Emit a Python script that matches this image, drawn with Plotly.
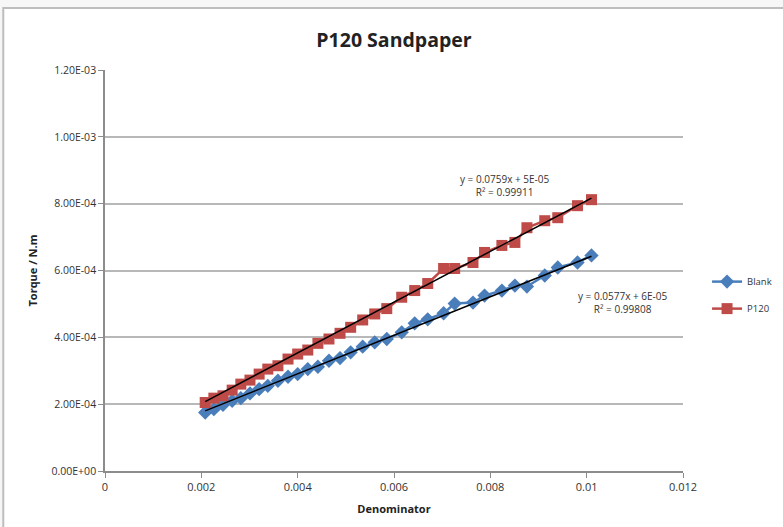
import plotly.graph_objects as go

# Denominator values (shared by both series)
denominator = [0.00208, 0.00226, 0.00245, 0.00264, 0.00282, 0.00301, 0.00320, 0.00338,
               0.00359, 0.00380, 0.00400, 0.00421, 0.00442, 0.00465, 0.00488, 0.00510,
               0.00535, 0.00560, 0.00585, 0.00616, 0.00643, 0.00670, 0.00703, 0.00726,
               0.00764, 0.00788, 0.00824, 0.00851, 0.00876, 0.00913, 0.00940, 0.00981,
               0.01010]

# Torque / N.m
torque_blank = [1.75e-4, 1.85e-4, 1.98e-4, 2.10e-4, 2.18e-4, 2.32e-4, 2.45e-4, 2.55e-4,
                2.70e-4, 2.82e-4, 2.90e-4, 3.05e-4, 3.12e-4, 3.30e-4, 3.38e-4, 3.55e-4,
                3.72e-4, 3.85e-4, 3.95e-4, 4.15e-4, 4.42e-4, 4.54e-4, 4.72e-4, 5.01e-4,
                5.04e-4, 5.25e-4, 5.40e-4, 5.55e-4, 5.52e-4, 5.85e-4, 6.09e-4, 6.24e-4,
                6.45e-4]
torque_p120 = [2.05e-4, 2.18e-4, 2.25e-4, 2.42e-4, 2.60e-4, 2.72e-4, 2.90e-4, 3.05e-4,
               3.15e-4, 3.35e-4, 3.50e-4, 3.62e-4, 3.82e-4, 3.95e-4, 4.12e-4, 4.30e-4,
               4.52e-4, 4.70e-4, 4.86e-4, 5.20e-4, 5.40e-4, 5.61e-4, 6.06e-4, 6.06e-4,
               6.24e-4, 6.54e-4, 6.75e-4, 6.84e-4, 7.28e-4, 7.49e-4, 7.58e-4, 7.94e-4,
               8.12e-4]

# Linear trendline coefficients (slope, intercept, R²)
fit_blank = (0.0577, 6e-05, 0.99808)
fit_p120 = (0.0759, 5e-05, 0.99911)

# Axis ticks
y_ticks = [0, 2e-4, 4e-4, 6e-4, 8e-4, 1e-3, 1.2e-3]
y_tick_labels = ["0.00E+00", "2.00E-04", "4.00E-04", "6.00E-04", "8.00E-04", "1.00E-03", "1.20E-03"]
x_ticks = [0, 0.002, 0.004, 0.006, 0.008, 0.010, 0.012]
x_tick_labels = ["0", "0.002", "0.004", "0.006", "0.008", "0.01", "0.012"]

BLUE = "#4a7ebb"
RED = "#be4b48"
FONT = "Open Sans, Noto Sans, DejaVu Sans, sans-serif"
TXT = "#333333"

fig = go.Figure()

fig.add_trace(go.Scatter(
    x=denominator, y=torque_blank, name="Blank", mode="lines+markers",
    line=dict(color=BLUE, width=2.5),
    marker=dict(symbol="diamond", size=11, color=BLUE),
    legendgroup="blank",
))
fig.add_trace(go.Scatter(
    x=denominator, y=torque_p120, name="P120", mode="lines+markers",
    line=dict(color=RED, width=2.5),
    marker=dict(symbol="square", size=11, color=RED),
    legendgroup="p120",
))

# Trendlines drawn from the fitted equations over the data range
x0, x1 = denominator[0], denominator[-1]
for slope, icpt, _ in (fit_blank, fit_p120):
    fig.add_trace(go.Scatter(
        x=[x0, x1], y=[slope * x0 + icpt, slope * x1 + icpt],
        mode="lines", line=dict(color="black", width=1.5),
        showlegend=False, hoverinfo="skip",
    ))

def fit_text(fit, icpt_label):
    return f"y = {fit[0]}x + {icpt_label}<br>R² = {fit[2]}"

fig.add_annotation(x=0.00830, y=8.55e-4, xref="x", yref="y",
                   text=fit_text(fit_p120, "5E-05"), showarrow=False,
                   font=dict(family=FONT, size=10, color=TXT), align="center")
fig.add_annotation(x=0.01075, y=5.05e-4, xref="x", yref="y",
                   text=fit_text(fit_blank, "6E-05"), showarrow=False,
                   font=dict(family=FONT, size=10, color=TXT), align="center")

# Chart frame
fig.add_shape(type="rect", xref="paper", yref="paper",
              x0=-0.176, y0=-0.16, x1=1.2, y1=1.1546,
              line=dict(color="#bdbdbd", width=2), fillcolor="white", layer="below")

fig.update_layout(
    width=783, height=527,
    margin=dict(l=105, r=100, t=70, b=56, autoexpand=False),
    paper_bgcolor="#f6f6f6", plot_bgcolor="rgba(0,0,0,0)",
    title=dict(text="<b>P120 Sandpaper</b>", x=0.5, xanchor="center", xref="paper",
               y=0.924, yanchor="middle",
               font=dict(family=FONT, size=19.5, color="#222222")),
    font=dict(family=FONT, size=11, color=TXT),
    showlegend=True,
    legend=dict(x=0.903, y=0.44, xref="container", yref="container",
                xanchor="left", yanchor="middle",
                bgcolor="rgba(0,0,0,0)", font=dict(family=FONT, size=9.5, color=TXT),
                itemwidth=30, traceorder="grouped", tracegroupgap=8),
    xaxis=dict(
        range=[0, 0.012], tickvals=x_ticks, ticktext=x_tick_labels,
        showgrid=False, zeroline=False, showline=True, linecolor="#8c8c8c", linewidth=1.5,
        ticks="outside", ticklen=5, tickcolor="#8c8c8c",
        tickfont=dict(family=FONT, size=11, color=TXT),
        title=dict(text="<b>Denominator</b>", font=dict(family=FONT, size=11, color="#222222"),
                   standoff=12),
    ),
    yaxis=dict(
        range=[0, 1.2e-3], tickvals=y_ticks, ticktext=y_tick_labels,
        showgrid=True, gridcolor="#b8b8b8", gridwidth=1.5,
        zeroline=False, showline=True, linecolor="#8c8c8c", linewidth=1.5,
        ticks="outside", ticklen=5, tickcolor="#8c8c8c",
        tickfont=dict(family=FONT, size=10.5, color=TXT),
        title=dict(text="<b>Torque / N.m</b>", font=dict(family=FONT, size=11, color="#222222"),
                   standoff=12),
    ),
)

fig.write_html("out.html")
